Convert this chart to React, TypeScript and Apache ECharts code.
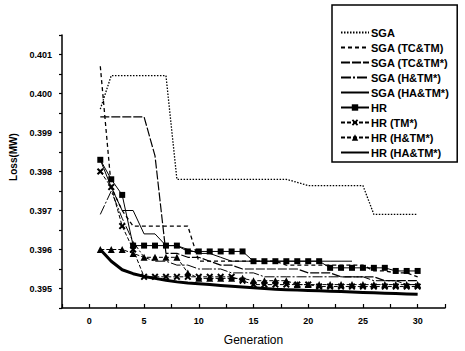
import React, { useEffect, useRef } from "react";
import * as echarts from "echarts";

const generations = [1, 2, 3, 4, 5, 6, 7, 8, 9, 10, 11, 12, 13, 14, 15, 16, 17, 18, 19, 20, 21, 22, 23, 24, 25, 26, 27, 28, 29, 30];

const seriesNames = [
  "SGA",
  "SGA (TC&TM)",
  "SGA (TC&TM*)",
  "SGA (H&TM*)",
  "SGA (HA&TM*)",
  "HR",
  "HR (TM*)",
  "HR (H&TM*)",
  "HR (HA&TM*)",
];

const sga = [0.3996, 0.40046, 0.40046, 0.40046, 0.40046, 0.40046, 0.40046, 0.3978, 0.3978, 0.3978, 0.3978, 0.3978, 0.3978, 0.3978, 0.3978, 0.3978, 0.3978, 0.3978, 0.39772, 0.39764, 0.39764, 0.39764, 0.39764, 0.39764, 0.39764, 0.3969, 0.3969, 0.3969, 0.3969, 0.3969];
const sgaTcTm = [0.4007, 0.3976, 0.397, 0.3966, 0.3966, 0.3966, 0.3966, 0.3966, 0.3966, 0.3957, 0.3957, 0.3957, 0.3957, 0.3957, 0.3957, 0.3957, 0.3957, 0.3956, 0.3956, 0.3956, 0.3956, 0.3956, 0.3956, 0.3956, 0.3956, 0.39545, 0.39545, 0.3954, 0.3954, 0.3953];
const sgaTcTmStar = [0.3994, 0.3994, 0.3994, 0.3994, 0.3994, 0.3984, 0.3959, 0.3959, 0.3958, 0.3958, 0.3957, 0.3956, 0.3956, 0.3955, 0.3955, 0.3955, 0.3955, 0.3955, 0.3955, 0.3954, 0.3954, 0.3954, 0.3953, 0.3953, 0.3953, 0.3953, 0.3952, 0.3952, 0.3952, 0.3952];
const sgaHTmStar = [0.3969, 0.3975, 0.3968, 0.3962, 0.3958, 0.3957, 0.3957, 0.3956, 0.3956, 0.3955, 0.3955, 0.3955, 0.3954, 0.3954, 0.3954, 0.3953, 0.3953, 0.3953, 0.3953, 0.3953, 0.3953, 0.3953, 0.3953, 0.3953, 0.3953, 0.3952, 0.3952, 0.3952, 0.3951, 0.3951];
const sgaHaTmStar = [0.3983, 0.3976, 0.397, 0.397, 0.3964, 0.3964, 0.3961, 0.3961, 0.396, 0.3959, 0.3959, 0.3958, 0.3957, 0.3957, 0.3957, 0.3957, 0.3957, 0.3957, 0.3957, 0.3957, 0.3957, 0.3957, 0.3957, 0.3957];
const hr = [0.3983, 0.3978, 0.3974, 0.3961, 0.3961, 0.3961, 0.3961, 0.3961, 0.39595, 0.39595, 0.39595, 0.39595, 0.39595, 0.39595, 0.3957, 0.3957, 0.3957, 0.3957, 0.3957, 0.3957, 0.3957, 0.39553, 0.39553, 0.39553, 0.39553, 0.39553, 0.39553, 0.39545, 0.39545, 0.39545];
const hrTm = [0.398, 0.3976, 0.3966, 0.396, 0.3953, 0.3953, 0.3953, 0.3953, 0.3953, 0.3953, 0.3953, 0.3953, 0.3953, 0.3952, 0.3951, 0.3951, 0.3951, 0.3951, 0.3951, 0.3951, 0.39505, 0.39505, 0.39505, 0.39505, 0.39505, 0.39505, 0.39505, 0.39505, 0.39505, 0.39505];
const hrHTm = [0.396, 0.396, 0.396, 0.3959, 0.3958, 0.3958, 0.3958, 0.3958, 0.3954, 0.39526, 0.39526, 0.39526, 0.39526, 0.39526, 0.3952, 0.3952, 0.3952, 0.3952, 0.3951, 0.3951, 0.3951, 0.3951, 0.3951, 0.3951, 0.3951, 0.3951, 0.3951, 0.3951, 0.3951, 0.3951];
const hrHaTm = [0.396, 0.3957, 0.39548, 0.39538, 0.39531, 0.39526, 0.39521, 0.39517, 0.39514, 0.39512, 0.3951, 0.39508, 0.39506, 0.39504, 0.39502, 0.395, 0.39498, 0.39497, 0.39496, 0.39495, 0.39494, 0.39493, 0.39492, 0.39491, 0.3949, 0.39489, 0.39488, 0.39487, 0.39486, 0.39485];

const xTicks = [0, 5, 10, 15, 20, 25, 30];
const yTicks = [0.395, 0.396, 0.397, 0.398, 0.399, 0.4, 0.401];

const FONT = "Liberation Sans";
const XMARK = "path://M2,0 L5,3 L8,0 L10,2 L7,5 L10,8 L8,10 L5,7 L2,10 L0,8 L3,5 L0,2 Z";

function pts(values: number[]) {
  return values.map((v, i) => [generations[i], v]);
}

export default function App() {
  const ref = useRef<HTMLDivElement>(null);
  useEffect(() => {
    const chart = echarts.init(ref.current!, null, { renderer: "svg" });
    const line = (name: string, values: number[], type: any, width = 1, symbol = "none", size = 6) => ({
      name,
      type: "line",
      data: pts(values),
      symbol,
      symbolSize: size,
      showSymbol: symbol !== "none",
      itemStyle: { color: "#000" },
      lineStyle: { color: "#000", width, type },
      emphasis: { disabled: true },
      z: 2,
    });
    const markerIdx = [5, 6, 7];
    chart.setOption({
      animation: false,
      backgroundColor: "#fff",
      textStyle: { fontFamily: FONT },
      grid: { left: 62, right: 20, top: 35, bottom: 41, containLabel: false },
      legend: {
        orient: "vertical",
        left: 332,
        top: 5,
        padding: [22, 8, 4, 8],
        itemGap: 4,
        itemWidth: 28,
        itemHeight: 8,
        borderColor: "#000",
        borderWidth: 1.5,
        backgroundColor: "#fff",
        textStyle: { fontFamily: FONT, fontSize: 11, fontWeight: "bold", color: "#000", padding: [0, 0, 0, -3] },
        data: seriesNames.map((n, i) =>
          markerIdx.includes(i) ? { name: n } : { name: n, itemStyle: { opacity: 0 } }
        ),
      },
      xAxis: {
        type: "value",
        min: -2.5,
        max: 32.5,
        interval: 2.5,
        name: "Generation",
        nameLocation: "middle",
        nameGap: 26,
        nameTextStyle: { fontFamily: FONT, fontSize: 12, color: "#000" },
        axisLine: { show: true, onZero: false, lineStyle: { color: "#000", width: 1.5 } },
        axisTick: { show: true, inside: true, length: 4, lineStyle: { color: "#000", width: 1.2 } },
        axisLabel: {
          fontFamily: FONT,
          fontSize: 9,
          fontWeight: "bold",
          color: "#000",
          margin: 8,
          formatter: (v: number) => (xTicks.some((t) => Math.abs(t - v) < 1e-6) ? String(v) : ""),
        },
        splitLine: { show: false },
      },
      yAxis: {
        type: "value",
        min: 0.3945,
        max: 0.4015,
        interval: 0.0005,
        axisLine: { show: true, onZero: false, lineStyle: { color: "#000", width: 1.5 } },
        axisTick: { show: true, length: 3, lineStyle: { color: "#000", width: 1.2 } },
        axisLabel: {
          fontFamily: FONT,
          fontSize: 9,
          fontWeight: "bold",
          color: "#000",
          margin: 10,
          formatter: (v: number) => {
            const t = yTicks.find((y) => Math.abs(y - v) < 1e-7);
            return t !== undefined ? t.toFixed(3) : "";
          },
        },
        splitLine: { show: false },
      },
      graphic: [
        {
          type: "text",
          x: 13,
          y: 157,
          rotation: Math.PI / 2,
          style: {
            text: "Loss(MW)",
            fontFamily: FONT,
            fontSize: 10,
            fontWeight: "bold",
            fill: "#000",
            align: "center",
            verticalAlign: "middle",
          },
        },
      ],
      series: [
        line(seriesNames[0], sga, [1.5, 1.5], 1.3),
        line(seriesNames[1], sgaTcTm, [4, 3], 1.3),
        line(seriesNames[2], sgaTcTmStar, [9, 2], 1.2),
        line(seriesNames[3], sgaHTmStar, [10, 2, 2, 2], 1),
        line(seriesNames[4], sgaHaTmStar, "solid", 1),
        line(seriesNames[5], hr, "solid", 1, "rect", 6),
        line(seriesNames[6], hrTm, [4, 2], 1, XMARK, 7),
        line(seriesNames[7], hrHTm, [4, 2], 1, "triangle", 7),
        line(seriesNames[8], hrHaTm, "solid", 3),
      ],
    });
    return () => chart.dispose();
  }, []);
  return (
    <div
      ref={ref}
      style={{ position: "fixed", left: 0, top: 0, width: 465, height: 351, background: "#fff" }}
    />
  );
}
